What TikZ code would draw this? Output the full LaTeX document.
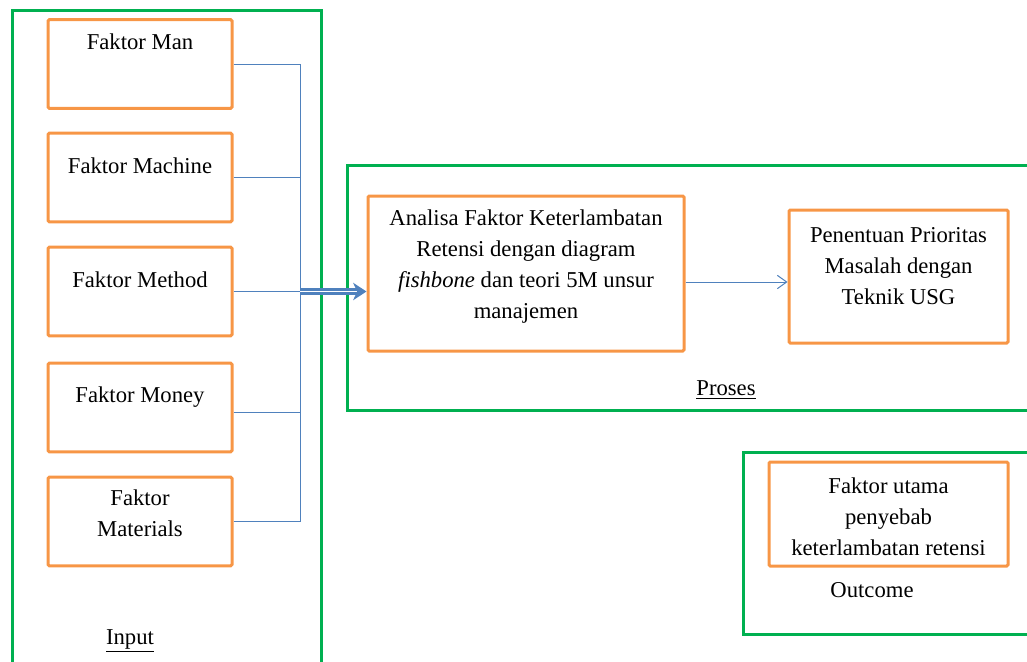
\documentclass[tikz,border=0pt]{standalone}
\usepackage{fontspec}
\setmainfont{Liberation Serif}
\usetikzlibrary{arrows.meta}
\definecolor{framegreen}{HTML}{00B050}
\definecolor{boxorange}{HTML}{F79646}
\definecolor{linkblue}{HTML}{4F81BD}

\tikzset{
  groupframe/.style={draw=framegreen, line width=2.25pt},
  orangebox/.style={draw=boxorange, line width=2.25pt, rounded corners=1pt, inner sep=0pt},
  factorbox/.style={orangebox, minimum width=138pt, minimum height=66.5pt},
  boxtext/.style={font=\fontsize{17}{23.25}\selectfont, align=center, inner sep=0pt},
  link/.style={draw=linkblue, line width=0.75pt}
}

\begin{document}
\begin{tikzpicture}[x=0.75pt, y=-0.75pt]
  \useasboundingbox (0,0) rectangle (1027,661);

  % Group frames
  \draw[groupframe] (12,700) -- (12,10) -- (321,10) -- (321,700);
  \draw[groupframe] (1040,165) -- (347,165) -- (347,410) -- (1040,410);
  \draw[groupframe] (1040,452) -- (743,452) -- (743,634) -- (1040,634);

  % Input factors
  \node[factorbox] (man) at (140,64) {};
  \node[factorbox] (machine) at (140,177.5) {};
  \node[factorbox] (method) at (140,291.5) {};
  \node[factorbox] (money) at (140,407.5) {};
  \node[factorbox] (materials) at (140,521.5) {};

  \node[boxtext] (mantext) at (140,42) {Faktor Man};
  \node[boxtext] (machinetext) at (140,166) {Faktor Machine};
  \node[boxtext] (methodtext) at (140,280) {Faktor Method};
  \node[boxtext] (moneytext) at (140,397) {Faktor Money};
  \node[boxtext] (materialstext) at (140,513) {Faktor\\Materials};

  \node[boxtext] (inputlabel) at (130,641) {\underline{Input}};

  % Proses
  \node[orangebox, minimum width=237pt, minimum height=116.25pt] (analisa) at (526,273.5) {};
  \node[boxtext] (analisatext) at (526,267) {Analisa Faktor Keterlambatan\\Retensi dengan diagram\\\textit{fishbone} dan teori 5M unsur\\manajemen};

  \node[orangebox, minimum width=164.25pt, minimum height=99.75pt] (usg) at (898.5,276.5) {};
  \node[boxtext] (usgtext) at (898.5,266.5) {Penentuan Prioritas\\Masalah dengan\\Teknik USG};

  \node[boxtext] (proseslabel) at (726,390) {\underline{Proses}};

  % Outcome
  \node[orangebox, minimum width=179.25pt, minimum height=78pt] (utama) at (888.5,514) {};
  \node[boxtext] (utamatext) at (888.5,517) {Faktor utama\\penyebab\\keterlambatan retensi};

  \node[boxtext] (outcomelabel) at (872,590) {Outcome};

  % Connectors
  \coordinate (bus) at (300,0);
  \coordinate (mid) at (0,282);
  \coordinate (moneyout) at (0,412);
  \foreach \f in {man, machine, method, materials}
    \draw[link] (\f.east) -- (\f.east -| bus);
  \draw[link] (money.east |- moneyout) -- (bus |- moneyout);
  \draw[link] (man.east -| bus) -- (materials.east -| bus);

  \draw[link, line width=1.6pt, double=white, double distance=1.4pt, -{Stealth[length=10pt, width=13pt, inset=3pt]}]
    (method.east -| bus) -- (method.east -| analisa.west);
  \draw[link, -{Straight Barb[length=7pt, width=10pt]}]
    (analisa.east |- mid) -- (usg.west |- mid);
\end{tikzpicture}
\end{document}
